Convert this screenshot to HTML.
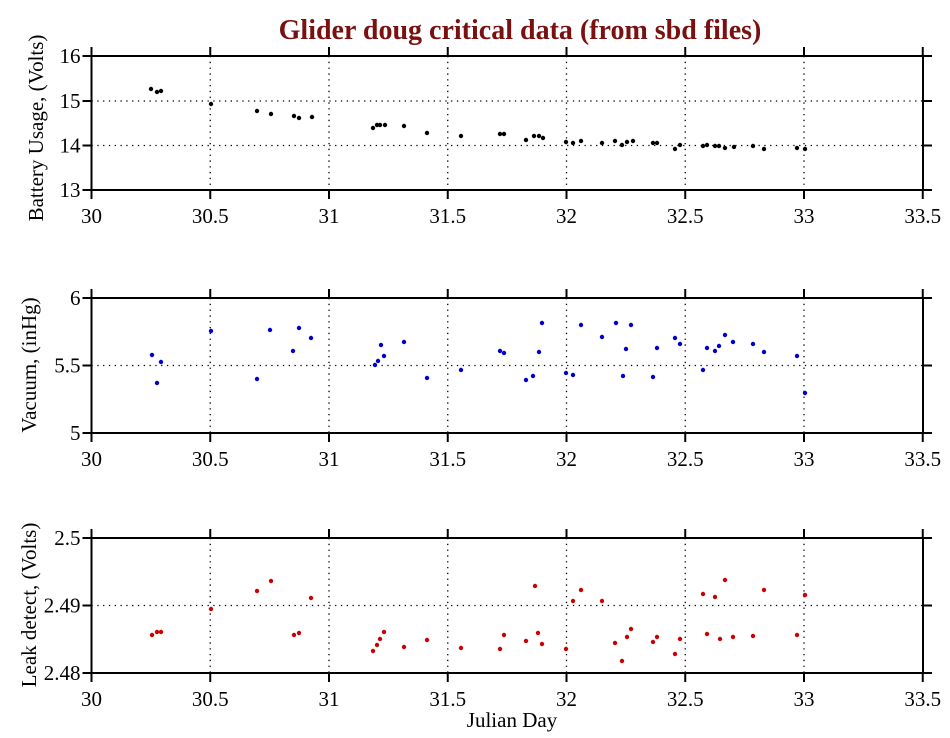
<!DOCTYPE html>
<html><head><meta charset="utf-8"><style>body{margin:0;background:#fff}svg{display:block}</style></head><body>
<svg width="950" height="738" xmlns="http://www.w3.org/2000/svg" font-family="Liberation Serif, serif">
<rect width="950" height="738" fill="#fff"/>
<text x="520" y="39" text-anchor="middle" font-size="28" font-weight="bold" fill="#7a1010">Glider doug critical data (from sbd files)</text>
<text x="512" y="727" text-anchor="middle" font-size="21">Julian Day</text>
<text transform="translate(43,128) rotate(-90)" text-anchor="middle" font-size="21">Battery Usage, (Volts)</text>
<text transform="translate(36,365) rotate(-90)" text-anchor="middle" font-size="21">Vacuum, (inHg)</text>
<text transform="translate(36,605) rotate(-90)" text-anchor="middle" font-size="21">Leak detect, (Volts)</text>
</svg>
<script>
(function(){
const NS="http://www.w3.org/2000/svg",svg=document.querySelector('svg');
function el(t,a,txt){const e=document.createElementNS(NS,t);for(const k in a)e.setAttribute(k,a[k]);if(txt!==undefined)e.textContent=txt;svg.appendChild(e);return e;}
const L=91.5,R=923,xs=[30,30.5,31,31.5,32,32.5,33,33.5];
const X=d=>L+(d-30)*237.5;
const panels=[
 {t:56,b:190,ticks:[["16",56],["15",101],["14",145.5],["13",190]],grid:[101,145.5]},
 {t:298,b:433,ticks:[["6",298],["5.5",365.5],["5",433]],grid:[365.5]},
 {t:538,b:673,ticks:[["2.5",538],["2.49",605.5],["2.48",673]],grid:[605.5]}];
panels.forEach(p=>{
 xs.slice(1,-1).forEach(d=>el('line',{x1:X(d),x2:X(d),y1:p.t,y2:p.b,stroke:'#000','stroke-width':1.3,'stroke-dasharray':'1.3 4.5'}));
 p.grid.forEach(y=>el('line',{x1:L,x2:R,y1:y,y2:y,stroke:'#000','stroke-width':1.3,'stroke-dasharray':'1.3 4.5'}));
 el('rect',{x:L,y:p.t,width:R-L,height:p.b-p.t,fill:'none',stroke:'#000','stroke-width':2});
 xs.forEach(d=>{el('line',{x1:X(d),x2:X(d),y1:p.t-9,y2:p.t,stroke:'#000','stroke-width':2});el('line',{x1:X(d),x2:X(d),y1:p.b,y2:p.b+9,stroke:'#000','stroke-width':2});
  el('text',{x:X(d),y:p.b+33,'text-anchor':'middle','font-size':21},String(d));});
 p.ticks.forEach(([s,y])=>{el('line',{x1:L-9,x2:L,y1:y,y2:y,stroke:'#000','stroke-width':2});el('line',{x1:R,x2:R+9,y1:y,y2:y,stroke:'#000','stroke-width':2});
  el('text',{x:L-11,y:y+7,'text-anchor':'end','font-size':21},s);});
});
const tp=[[151,89],[157,92],[161,91],[211,104],[257,111],[271,114],[294,116],[299,118],[312,117],[373,128],[377,125],[380,125],[385,125],[404,126],[427,133],[461,136],[500,134],[504,134],[526,140],[534,136],[539,136],[543,138],[566,142],[573,143],[581,141],[602,143],[615,141],[622,145],[627,142],[633,141],[653,143],[657,143],[675,149],[680,145],[703,146],[707,145],[715,146],[719,146],[725,148],[734,147],[753,146],[764,149],[797,148],[805,149]];
const md=[[152,355],[157,383],[161,362],[211,331],[257,379],[270,330],[293,351],[299,328],[311,338],[375,365],[378,361],[381,345],[384,356],[404,342],[427,378],[461,370],[500,351],[504,353],[526,380],[533,376],[539,352],[542,323],[566,373],[573,375],[581,325],[602,337],[616,323],[623,376],[626,349],[631,325],[653,377],[657,348],[675,338],[680,344],[703,370],[707,348],[715,351],[719,346],[725,335],[733,342],[753,344],[764,352],[797,356],[805,393]];
const bt=[[152,635],[157,632],[161,632],[211,609],[257,591],[271,581],[294,635],[299,633],[311,598],[373,651],[377,645],[380,639],[384,632],[404,647],[427,640],[461,648],[500,649],[504,635],[526,641],[535,586],[538,633],[542,644],[566,649],[573,601],[581,590],[602,601],[615,643],[622,661],[627,637],[631,629],[653,642],[657,637],[675,654],[680,639],[703,594],[707,634],[715,597],[720,639],[725,580],[733,637],[753,636],[764,590],[797,635],[805,595]];
[[tp,'#000'],[md,'#0000cc'],[bt,'#cc0000']].forEach(([a,c])=>a.forEach(([x,y])=>el('circle',{cx:x,cy:y,r:2.2,fill:c})));
})();
</script>
</body></html>
